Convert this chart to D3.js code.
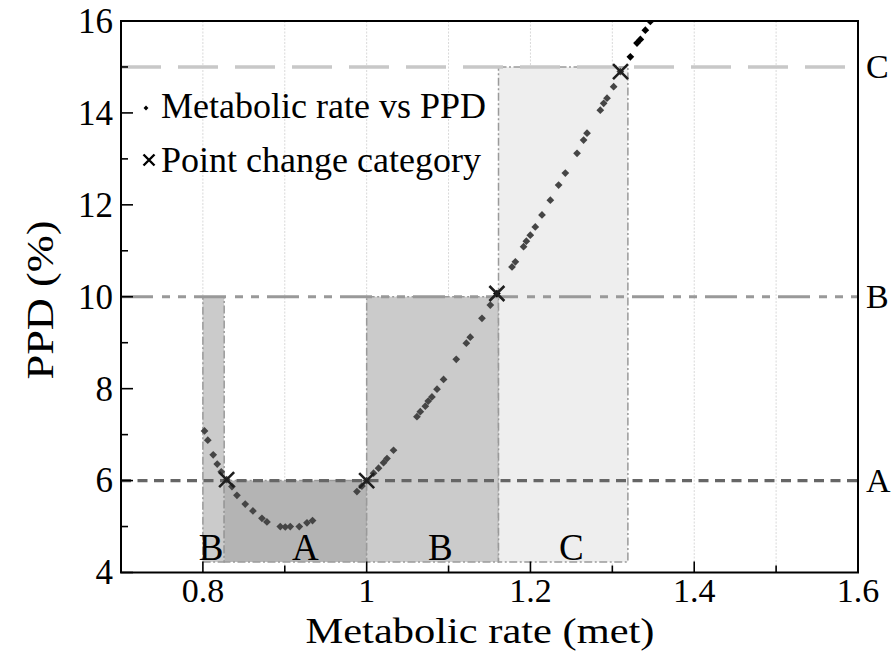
<!DOCTYPE html>
<html><head><meta charset="utf-8">
<script src="https://cdn.jsdelivr.net/npm/d3@7"></script>
<style>
html,body{margin:0;padding:0;background:#fff;}
svg text{font-family:"Liberation Serif","Times New Roman",Times,"DejaVu Serif",serif;fill:#000;}
</style></head>
<body><svg id="c" width="893" height="653" font-family="Liberation Serif, Times New Roman, serif"></svg>
<script>
// ---- data ----
const metRate = [0.802,0.806,0.8126,0.8175,0.8224,0.829,0.8355,0.8416,0.8517,0.8611,0.8721,0.8782,0.8945,0.9006,0.9067,0.9177,0.9271,0.9339,
  0.9881,0.9942,1.0,1.0084,1.0145,1.0206,1.0248,1.0328,1.0614,1.0655,1.0716,1.0752,1.0797,1.0859,1.0939,1.1094,1.1217,1.1265,1.1408,1.151,1.159,
  1.1775,1.1816,1.1916,1.195,1.1998,1.2059,1.2141,1.2243,1.2344,1.2426,1.2569,1.2649,1.2691,1.2853,1.2894,1.2935,1.3016,1.3098,1.322,1.3301,1.3342,1.3403,1.3464];
const ppdValues = [7.08,6.88,6.56,6.36,6.19,6.02,5.87,5.68,5.49,5.34,5.18,5.10,5.00,4.99,5.00,5.00,5.08,5.13,
  5.76,5.88,6.0,6.16,6.27,6.39,6.48,6.66,7.39,7.50,7.62,7.73,7.82,7.99,8.20,8.64,8.99,9.12,9.53,9.82,10.07,
  10.65,10.76,11.09,11.21,11.34,11.52,11.78,12.10,12.43,12.69,13.12,13.41,13.56,14.06,14.21,14.32,14.57,14.90,15.22,15.52,15.60,15.80,15.99];
const changeMet = [0.829, 1.0, 1.159, 1.31];
const changePPD = [6.02, 6.0, 10.07, 14.9];
const regionCat = ["B","A","B","C"];
const regionStart = [0.8, 0.826, 1.0, 1.161];
const regionEnd = [0.826, 1.0, 1.161, 1.319];
const regionTop = [10, 6, 10, 15];
const regionBottom = 4.23;
const regionLabelMet = [0.81, 0.925, 1.09, 1.25];
const thresholdCat = ["A","B","C"];
const thresholdPPD = [6, 10, 15];
const xTicks = [0.8, 1.0, 1.2, 1.4, 1.6];
const xTickLabels = ["0.8","1","1.2","1.4","1.6"];
const xMinor = [0.9, 1.1, 1.3, 1.5];
const yTicks = [4,6,8,10,12,14,16];
const yMinor = [5,7,9,11,13,15];
const gridMet = [0.8,0.9,1.0,1.1,1.2,1.3,1.4,1.5];

// ---- layout ----
const FONT = "Liberation Serif, Times New Roman, serif";
const L = 121, R = 858, T = 21, B = 572.5;
const svg = d3.select("#c");
const x = d3.scaleLinear().domain([0.7, 1.6]).range([L, R]);
const y = d3.scaleLinear().domain([4, 16]).range([B, T]);
const catFill = {A:"#b4b4b4", B:"#cbcbcb", C:"#eeeeee"};
const lineStyle = {
  A:{stroke:"#666", dash:"10,6.5", w:3.2},
  B:{stroke:"#999", dash:"32,9,8,8,8,8", w:3.2},
  C:{stroke:"#c8c8c8", dash:"40,17", w:3.6}
};
const txt = (g) => g.attr("font-family", FONT).attr("fill", "#000");

svg.append("defs").append("clipPath").attr("id","pc")
  .append("rect").attr("x",L).attr("y",T).attr("width",R-L).attr("height",B-T);

// grid
svg.append("g").selectAll("line").data(gridMet).join("line")
  .attr("x1",d=>x(d)).attr("x2",d=>x(d)).attr("y1",T).attr("y2",B)
  .attr("stroke","#d9d9d9").attr("stroke-width",1).attr("stroke-dasharray","2,1.5");

// regions
const regions = regionCat.map((c,i)=>({c, x0:regionStart[i], x1:regionEnd[i], top:regionTop[i], lx:regionLabelMet[i]}));
svg.append("g").selectAll("rect").data(regions).join("rect")
  .attr("x",d=>x(d.x0)).attr("width",d=>x(d.x1)-x(d.x0))
  .attr("y",d=>y(d.top)).attr("height",d=>y(regionBottom)-y(d.top))
  .attr("fill",d=>catFill[d.c]).attr("stroke","#9a9a9a").attr("stroke-width",1.5)
  .attr("stroke-dasharray","8,2.5,2,2.5");

// region letters
svg.append("g").call(txt).selectAll("text").data(regions).join("text")
  .attr("x",d=>x(d.lx)).attr("y",560).attr("text-anchor","middle")
  .attr("font-size",37).text(d=>d.c);

// threshold lines
const thr = thresholdCat.map((c,i)=>({c, v:thresholdPPD[i]}));
svg.append("g").selectAll("line").data(thr).join("line")
  .attr("x1",L).attr("x2",R).attr("y1",d=>y(d.v)).attr("y2",d=>y(d.v))
  .attr("stroke",d=>lineStyle[d.c].stroke).attr("stroke-width",d=>lineStyle[d.c].w)
  .attr("stroke-dasharray",d=>lineStyle[d.c].dash);
svg.append("g").call(txt).selectAll("text").data(thr).join("text")
  .attr("x",866).attr("y",d=>y(d.v)).attr("dy","0.33em")
  .attr("font-size",34).text(d=>d.c);

// data points
const pts = metRate.map((m,i)=>({m, p:ppdValues[i]}));
const inRegion = d => regions.some(r => d.m >= r.x0 && d.m <= r.x1 && d.p <= r.top + 0.05);
svg.append("g").attr("clip-path","url(#pc)").selectAll("path").data(pts).join("path")
  .attr("d", d3.symbol().type(d3.symbolSquare).size(30))
  .attr("transform",d=>`translate(${x(d.m)},${y(d.p)}) rotate(45)`)
  .attr("fill",d=>inRegion(d)?"#454545":"#000");

// change-point crosses
const crossPath = (h) => `M${-h},${-h}L${h},${h}M${-h},${h}L${h},${-h}`;
const cross = changeMet.map((m,i)=>({m, p:changePPD[i]}));
svg.append("g").selectAll("path").data(cross).join("path")
  .attr("d", crossPath(7.5))
  .attr("transform",d=>`translate(${x(d.m)},${y(d.p)})`)
  .attr("fill","none").attr("stroke","#1e1e1e").attr("stroke-width",2.6);

// axes frame
svg.append("rect").attr("x",L).attr("y",T).attr("width",R-L).attr("height",B-T)
  .attr("fill","none").attr("stroke","#000").attr("stroke-width",2);

// ticks (inward)
const tg = svg.append("g").attr("stroke","#000").attr("stroke-width",1.6);
tg.selectAll(".xM").data(xTicks).join("line").attr("x1",d=>x(d)).attr("x2",d=>x(d)).attr("y1",B).attr("y2",B-11);
tg.selectAll(".xm").data(xMinor).join("line").attr("x1",d=>x(d)).attr("x2",d=>x(d)).attr("y1",B).attr("y2",B-7);
tg.selectAll(".yM").data(yTicks).join("line").attr("y1",d=>y(d)).attr("y2",d=>y(d)).attr("x1",L).attr("x2",L+12);
tg.selectAll(".ym").data(yMinor).join("line").attr("y1",d=>y(d)).attr("y2",d=>y(d)).attr("x1",L).attr("x2",L+7);

// tick labels
svg.append("g").call(txt).selectAll("text").data(xTicks).join("text")
  .attr("x",d=>x(d)).attr("y",602).attr("text-anchor","middle").attr("font-size",34)
  .text((d,i)=>xTickLabels[i]);
svg.append("g").call(txt).selectAll("text").data(yTicks).join("text")
  .attr("x",113).attr("y",d=>y(d)).attr("dy","0.34em").attr("text-anchor","end").attr("font-size",35)
  .text(d=>d);

// axis titles
svg.append("text").call(txt).attr("transform",`translate(480,643) scale(1.18,1)`).attr("text-anchor","middle")
  .attr("font-size",36).text("Metabolic rate (met)");
svg.append("text").call(txt).attr("transform",`translate(53,300) rotate(-90) scale(1.2,1)`)
  .attr("text-anchor","middle").attr("font-size",37).text("PPD (%)");

// legend
const lg = svg.append("g");
lg.append("path").attr("d", d3.symbol().type(d3.symbolSquare).size(12))
  .attr("transform","translate(146,108) rotate(45)").attr("fill","#000");
lg.append("text").call(txt).attr("x",161).attr("y",118).attr("font-size",36).text("Metabolic rate vs PPD");
lg.append("path").attr("d", crossPath(5.5))
  .attr("transform","translate(149,160)").attr("fill","none").attr("stroke","#000").attr("stroke-width",2.4);
lg.append("text").call(txt).attr("x",161).attr("y",172).attr("font-size",36).text("Point change category");
</script></body></html>
